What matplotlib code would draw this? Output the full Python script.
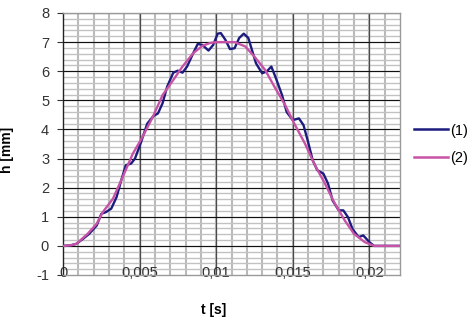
import matplotlib
matplotlib.use("Agg")
import matplotlib.pyplot as plt
import numpy as np
from matplotlib.ticker import FixedLocator

plt.rcParams['font.family'] = ['Liberation Sans', 'DejaVu Sans']
plt.rcParams['axes.unicode_minus'] = False

# series (1) measured
t1 = [0, 0.0005, 0.00087, 0.0013, 0.0017, 0.0022, 0.0025, 0.0028, 0.00315, 0.0035,
      0.0038, 0.0041, 0.00445, 0.0047, 0.0051, 0.0055, 0.0059, 0.0062, 0.0065, 0.0068,
      0.0072, 0.0075, 0.0078, 0.0081, 0.0085, 0.0088, 0.0091, 0.0095, 0.0098, 0.0101,
      0.0103, 0.0106, 0.0109, 0.0112, 0.0115, 0.0118, 0.0121, 0.0123, 0.0126, 0.0130,
      0.0133, 0.0136, 0.0139, 0.0143, 0.0146, 0.0150, 0.0154, 0.0157, 0.0160, 0.0163,
      0.0166, 0.0170, 0.0173, 0.0176, 0.0180, 0.0183, 0.0186, 0.0189, 0.0193, 0.0196,
      0.0200, 0.0203, 0.0210, 0.0220]
h1 = [0, 0.02, 0.07, 0.24, 0.41, 0.7, 1.1, 1.16, 1.28, 1.68,
      2.25, 2.77, 2.83, 3.0, 3.57, 4.2, 4.46, 4.55, 4.9, 5.47,
      5.95, 6.02, 5.95, 6.16, 6.62, 6.94, 6.9, 6.71, 6.9, 7.29,
      7.31, 7.08, 6.76, 6.79, 7.14, 7.29, 7.14, 6.79, 6.27, 5.93,
      5.99, 6.16, 5.76, 5.18, 4.6, 4.32, 4.38, 4.15, 3.57, 2.94,
      2.6, 2.48, 2.14, 1.56, 1.22, 1.22, 0.99, 0.58, 0.3, 0.36,
      0.13, 0, 0, 0]

# series (2) theoretical
t2 = [0, 0.0005, 0.00087, 0.0016, 0.0022, 0.0026, 0.00326, 0.0039, 0.00456, 0.0052,
      0.00587, 0.0065, 0.0072, 0.0078, 0.0085, 0.0091, 0.0096, 0.0100, 0.0106, 0.0112,
      0.0119, 0.0125, 0.0132, 0.0138, 0.0145, 0.0151, 0.0158, 0.0164, 0.0171, 0.0177,
      0.0184, 0.0190, 0.0197, 0.0203, 0.0210, 0.0220]
h2 = [0, 0.02, 0.07, 0.41, 0.76, 1.16, 1.62, 2.37, 3.17, 3.75,
      4.44, 5.18, 5.7, 6.16, 6.62, 6.87, 6.97, 7.0, 7.0, 7.0,
      6.85, 6.5, 6.04, 5.47, 4.84, 4.2, 3.51, 2.82, 2.14, 1.5,
      0.87, 0.41, 0.13, 0, 0, 0]

series_labels = ['(1)', '(2)']
x_ticks = [0, 0.005, 0.01, 0.015, 0.02]
x_tick_labels = ['0', '0,005', '0,01', '0,015', '0,02']
y_ticks = [-1, 0, 1, 2, 3, 4, 5, 6, 7, 8]

fig = plt.figure(figsize=(4.69, 3.20), dpi=100)
ax = fig.add_axes([63/469, 1-275/320, 337/469, 262/320])

xmin, xmax, ymin, ymax = 0, 0.022, -1, 8
ax.set_xlim(xmin, xmax)
ax.set_ylim(ymin, ymax)

ax.xaxis.set_major_locator(FixedLocator(x_ticks))
ax.yaxis.set_major_locator(FixedLocator(y_ticks))
ax.set_xticklabels(x_tick_labels)

# grid drawn as separate artists so tick labels sit on top of it
minor_x = np.arange(1, 22) * 0.001
minor_y = np.arange(-4, 40) * 0.2
ax.vlines(minor_x, ymin, ymax, colors='#bababa', linewidth=1.5, zorder=0.1)
ax.hlines(minor_y, xmin, xmax, colors='#c2c2c2', linewidth=1.0, zorder=0.1)
ax.vlines(x_ticks[1:], ymin, ymax, colors='#4a4a4a', linewidth=0.9, zorder=0.2)
ax.hlines(y_ticks[1:], xmin, xmax, colors='#111111', linewidth=0.8, zorder=0.2)
ax.set_axisbelow(True)

ax.plot(t1, h1, color='#1c1c7e', linewidth=1.7, label=series_labels[0], zorder=3)
ax.plot(t2, h2, color='#c853a6', linewidth=1.7, label=series_labels[1], zorder=4)

for side in ['top', 'right', 'bottom']:
    ax.spines[side].set_color('#9a9a9a')
    ax.spines[side].set_linewidth(1.0)
ax.spines['left'].set_color('#222222')
ax.spines['left'].set_linewidth(1.0)

ax.tick_params(axis='x', which='both', length=0, pad=-6.5, labelsize=10.5, colors='#333333')
ax.tick_params(axis='y', which='major', length=4, width=0.8, direction='out', pad=6,
               labelsize=10.5, colors='#333333')
ax.tick_params(axis='y', which='minor', length=0)

ax.set_xlabel('t [s]', fontsize=10, fontweight='bold')
ax.set_ylabel('h [mm]', fontsize=10, fontweight='bold')
ax.xaxis.set_label_coords((214-63)/337, (275-303)/262)
ax.yaxis.set_label_coords((14-63)/337, (275-150)/262)

leg = fig.legend(loc='center left', bbox_to_anchor=(414/469, 1-144.5/320),
                 frameon=False, fontsize=10.5, handlelength=2.3, handletextpad=0.15,
                 labelspacing=0.95, borderpad=0, borderaxespad=0)
for line in leg.get_lines():
    line.set_linewidth(1.8)

fig.savefig('out.png', dpi=100)
